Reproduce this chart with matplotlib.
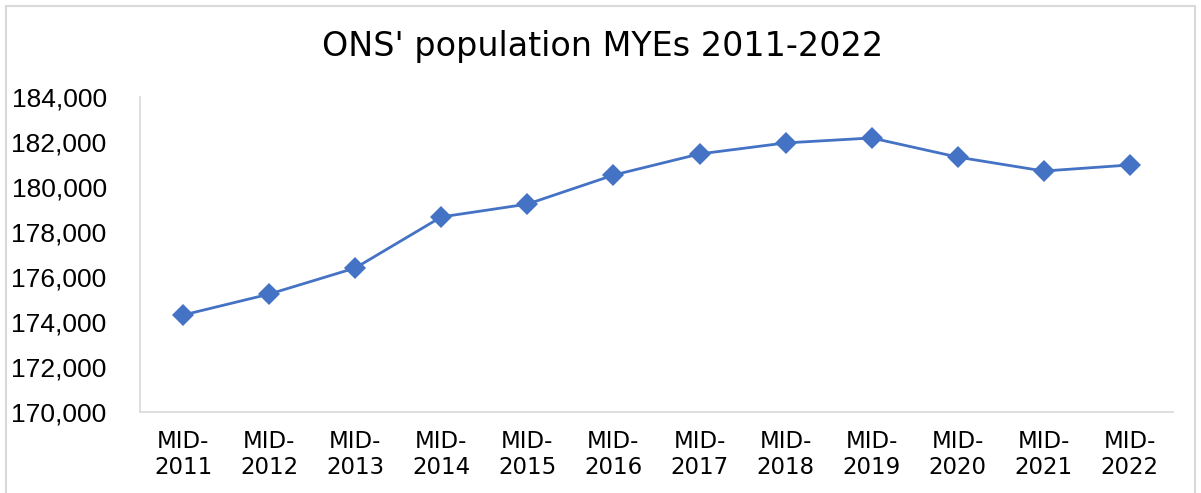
import matplotlib.pyplot as plt
from matplotlib.patches import Rectangle
from matplotlib.ticker import FuncFormatter

# mid-year population estimates
years = ['MID-\n2011', 'MID-\n2012', 'MID-\n2013', 'MID-\n2014', 'MID-\n2015', 'MID-\n2016',
         'MID-\n2017', 'MID-\n2018', 'MID-\n2019', 'MID-\n2020', 'MID-\n2021', 'MID-\n2022']
population = [174310, 175240, 176400, 178670, 179240, 180530,
              181470, 181960, 182180, 181330, 180710, 180980]

plt.rcParams['font.family'] = ['Liberation Sans', 'DejaVu Sans']

fig = plt.figure(figsize=(12.01, 4.93), dpi=100)
ax = fig.add_axes([0.1166, 0.1643, 0.86, 0.6389])

x = list(range(len(years)))
ax.plot(x, population, color='#4472C4', linewidth=2.0,
        marker='D', markersize=11, markeredgewidth=0)

ax.set_xlim(-0.5, len(years) - 0.5)
ax.set_ylim(170000, 184000)
ax.set_yticks(range(170000, 184001, 2000))
ax.yaxis.set_major_formatter(FuncFormatter(lambda v, p: f'{int(v):,}'))
ax.set_xticks(x)
ax.set_xticklabels(years, fontsize=16.5, linespacing=1.15, family='DejaVu Sans')
ax.tick_params(axis='y', labelsize=19, length=0, pad=24)
ax.tick_params(axis='x', length=0, pad=13)

for s in ['top', 'right']:
    ax.spines[s].set_visible(False)
for s in ['left', 'bottom']:
    ax.spines[s].set_color('#D9D9D9')
    ax.spines[s].set_linewidth(1.2)

fig.text(0.502, 0.905, "ONS' population MYEs 2011-2022", fontsize=24,
         ha='center', va='center', color='#000000', family='DejaVu Sans')

# chart border
fig.patches.append(Rectangle((6 / 1201, -0.1), 1189 / 1201, 1.1 - 6 / 493,
                             transform=fig.transFigure, fill=False,
                             edgecolor='#D9D9D9', linewidth=1.5))

fig.savefig('out.png', dpi=100)
